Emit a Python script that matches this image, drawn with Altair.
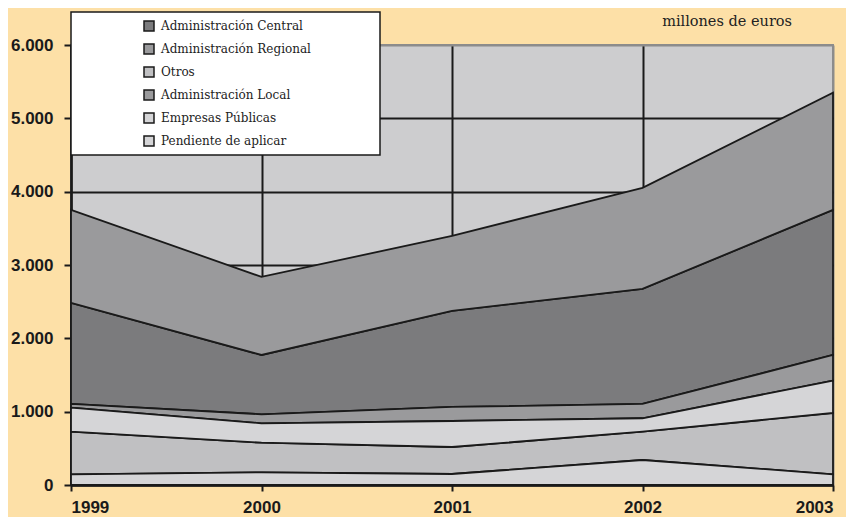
import altair as alt
import pandas as pd

years = [1999, 2000, 2001, 2002, 2003]
# series in legend order
series = ["Administración Central", "Administración Regional", "Otros",
          "Administración Local", "Empresas Públicas", "Pendiente de aplicar"]
central = [1378, 809, 1310, 1569, 1979]
regional = [1269, 1065, 1023, 1378, 1596]
otros = [581, 404, 368, 386, 836]
local = [50, 123, 191, 195, 350]
empresas = [328, 264, 355, 183, 441]
pendiente = [146, 173, 150, 341, 146]
# stacking rank (0 = bottom)
stack_rank = [4, 5, 1, 3, 2, 0]
colors = ["#7b7b7d", "#9a9a9c", "#c0c0c2", "#9a9a9c", "#d5d5d7", "#d5d5d7"]
y_ticks = [0, 1000, 2000, 3000, 4000, 5000, 6000]
unit_text = ["millones de euros"]

values = [central, regional, otros, local, empresas, pendiente]
rows = []
for s, r, vals in zip(series, stack_rank, values):
    for yr, v in zip(years, vals):
        rows.append({"year": yr, "serie": s, "value": v, "rank": r})
df = pd.DataFrame(rows)

label_font = "Liberation Sans"
serif = "DejaVu Serif"

areas = alt.Chart(df).mark_area(
    stroke="#1a1a1a", strokeWidth=1.8, interpolate="linear", opacity=1
).encode(
    x=alt.X("year:Q", scale=alt.Scale(domain=[1999, 2003], nice=False, zero=False),
            axis=alt.Axis(values=years, format="d", title=None,
                          labelFont=label_font, labelFontWeight="bold", labelFontSize=17,
                          labelColor="#1a1a1a", labelPadding=8,
                          domainColor="#1a1a1a", domainWidth=2.5,
                          tickColor="#1a1a1a", tickWidth=2, tickSize=6,
                          grid=True, gridWidth=2,
                          gridColor={"condition": {"test": "datum.value == 2003", "value": "#8c8c8c"},
                                     "value": "#1a1a1a"})),
    y=alt.Y("value:Q", stack="zero",
            scale=alt.Scale(domain=[0, 6000], nice=False),
            axis=alt.Axis(values=y_ticks, title=None,
                          labelExpr="replace(format(datum.value, ','), ',', '.')",
                          labelFont=label_font, labelFontWeight="bold", labelFontSize=17,
                          labelColor="#1a1a1a", labelPadding=11,
                          domainColor="#1a1a1a", domainWidth=2.5,
                          tickColor="#1a1a1a", tickWidth=2, tickSize=7,
                          grid=True, gridWidth=2,
                          gridColor={"condition": {"test": "datum.value == 6000", "value": "#8c8c8c"},
                                     "value": "#1a1a1a"})),
    color=alt.Color("serie:N",
                    scale=alt.Scale(domain=series, range=colors),
                    legend=alt.Legend(
                        title=None, orient="none", legendX=72, legendY=-25,
                        direction="vertical",
                        symbolType="square", symbolSize=100,
                        symbolStrokeColor="#1a1a1a", symbolStrokeWidth=1.5,
                        symbolOpacity=1,
                        labelFont=serif, labelFontSize=12, labelColor="#222222",
                        labelOffset=6, rowPadding=7, padding=0,
                        labelExpr="indexof(['Otros', 'Pendiente de aplicar'], datum.label) >= 0 ? datum.label : '\u00a0\u00a0' + datum.label",
                    )),
    order=alt.Order("rank:Q", sort="ascending"),
)

box = alt.Chart(pd.DataFrame({"a": [0]})).mark_rect(
    fill="white", stroke="#1a1a1a", strokeWidth=1.5
).encode(
    x=alt.value(0), x2=alt.value(309), y=alt.value(-33), y2=alt.value(110)
)

unit = alt.Chart(pd.DataFrame({"t": unit_text})).mark_text(
    font=serif, fontSize=14.5, color="#222222", align="right", baseline="middle"
).encode(
    text="t:N", x=alt.value(721), y=alt.value(-23)
)

chart = alt.layer(areas, box, unit).properties(
    width=762, height=440,
    padding={"left": 63, "top": 37, "right": 13, "bottom": 32},
    autosize=alt.AutoSizeParams(type="none"),
    background="#fde0a7",
).configure_view(
    fill="#cdcdcf", stroke="#8c8c8c", strokeWidth=2
)

chart.save("out.html", embed_options={"renderer": "svg", "actions": False})
